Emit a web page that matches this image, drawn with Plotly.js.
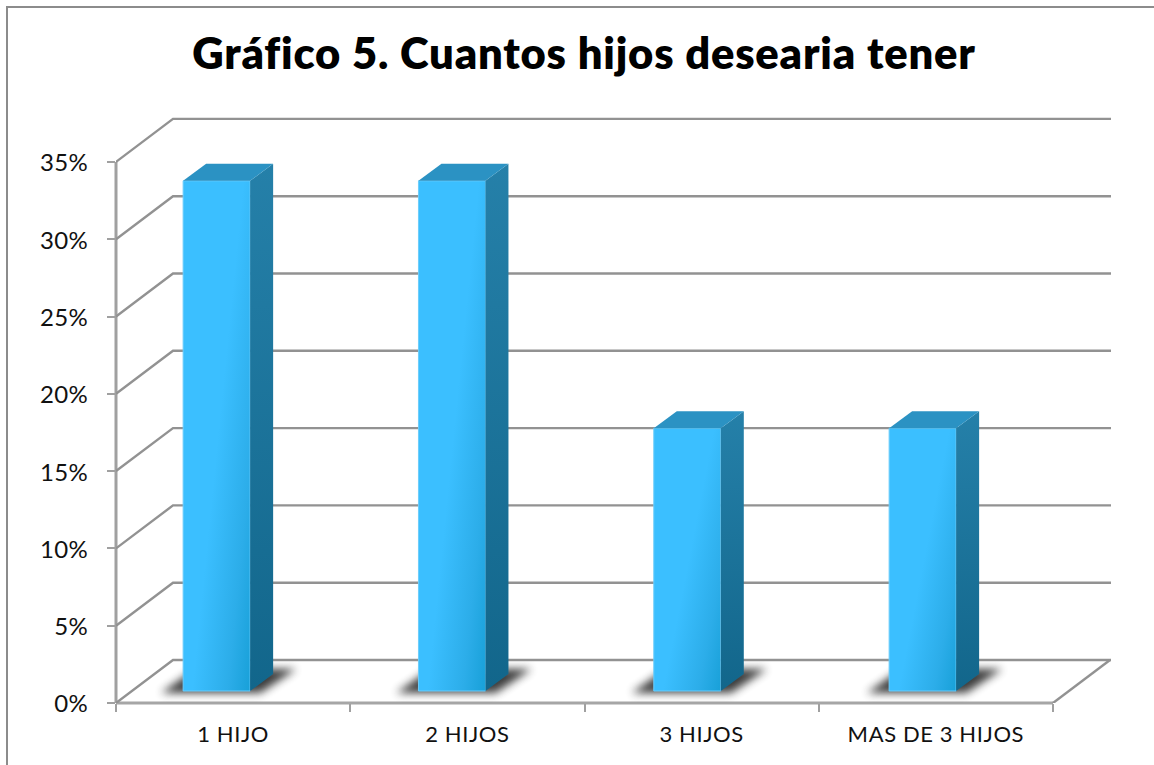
<!DOCTYPE html>
<html><head><meta charset="utf-8">
<script src="https://cdn.plot.ly/plotly-3.0.1.min.js"></script>
<style>html,body{margin:0;padding:0;background:#fff}#chart{width:1154px;height:765px}
.gtitle{letter-spacing:.8px}.xtick text{letter-spacing:.6px}.ytick text{letter-spacing:.4px}</style>
</head><body><div id="chart"></div>
<script>
const chartTitle = 'Gráfico 5. Cuantos hijos desearia tener';
const categories = ['1 HIJO', '2 HIJOS', '3 HIJOS', 'MAS DE 3 HIJOS'];
const values = [33, 33, 17, 17];
const yTicks = [0, 5, 10, 15, 20, 25, 30, 35];
const yTickLabels = ['0%', '5%', '10%', '15%', '20%', '25%', '30%', '35%'];

const W = 1154, H = 765;
const pxCat = 234.25, pxPct = 15.46;
const mL = 116, mR = 39, mB = 62, mT = 108;
const xMin = -0.5, xMax = xMin + (W - mL - mR) / pxCat;
const yMax = (H - mB - mT) / pxPct;
const ux = p => p / pxCat, uy = p => p / pxPct;

const gridColor = '#929292';
const wallDx = ux(57), wallDy = uy(43);
const barDx = ux(23), barDy = uy(17);
const barW = ux(67), barShift = ux(-16.5), barBase = uy(12), barStep = ux(235.33);
const lastEdge = categories.length - 0.5;
const barCenter = i => i * barStep + barShift;

const shapes = [];
const shadowCount = categories.length;
categories.forEach((c, i) => {
  const L = barCenter(i) - barW / 2, R = L + barW, b = barBase;
  shapes.push({type: 'path', layer: 'below', xref: 'x', yref: 'y',
    path: `M${L - ux(22)},${b - uy(2)} L${R + ux(10)},${b - uy(2)} L${R + ux(46)},${b + uy(22)} L${L + ux(12)},${b + uy(22)} Z`,
    fillcolor: '#1c1c1c', opacity: 0.85, line: {width: 0}});
});
yTicks.forEach(v => {
  shapes.push({type: 'path', layer: 'below', xref: 'x', yref: 'y',
    path: `M${xMin},${v} L${xMin + wallDx},${v + wallDy} L${xMax - ux(4)},${v + wallDy}`,
    fillcolor: 'rgba(0,0,0,0)', line: {color: gridColor, width: 2.4}});
});
// front floor edge, right floor edge, vertical axis
shapes.push({type: 'line', layer: 'below', xref: 'x', yref: 'paper', x0: xMin, x1: lastEdge, y0: 0, y1: 0, line: {color: '#a6a6a6', width: 3}});
shapes.push({type: 'line', layer: 'below', xref: 'x', yref: 'y', x0: lastEdge, x1: lastEdge + wallDx, y0: 0, y1: wallDy, line: {color: gridColor, width: 2.4}});
shapes.push({type: 'line', layer: 'below', xref: 'paper', yref: 'y', x0: 0, x1: 0, y0: 0, y1: 35, line: {color: '#a0a0a0', width: 3}});
// outer chart frame
shapes.push({type: 'path', xref: 'paper', yref: 'paper',
  path: `M${(7 - mL) / (W - mL - mR)},${-mB / (H - mB - mT)} L${(7 - mL) / (W - mL - mR)},${(H - mB - 7) / (H - mB - mT)} L${(W - mL) / (W - mL - mR)},${(H - mB - 7) / (H - mB - mT)}`,
  fillcolor: 'rgba(0,0,0,0)', line: {color: '#8c8c8c', width: 2}});

const frontTrace = {type: 'bar', x: categories.map((c, i) => barCenter(i)), y: values,
  base: barBase, width: barW, marker: {color: '#2aa9e6', line: {color: '#6ccdfb', width: 1}}, hoverinfo: 'skip'};
const sideTraces = values.map((v, i) => {
  const R = barCenter(i) + barW / 2, b = barBase;
  return {type: 'scatter', mode: 'lines', fill: 'toself', fillcolor: '#1c749b', line: {width: 0}, hoverinfo: 'skip',
    x: [R, R + barDx, R + barDx, R, R], y: [b, b + barDy, b + v + barDy, b + v, b]};
});
const topTraces = values.map((v, i) => {
  const L = barCenter(i) - barW / 2, R = L + barW, t = barBase + v;
  return {type: 'scatter', mode: 'lines', fill: 'toself', fillcolor: '#2b92c3', line: {width: 0}, hoverinfo: 'skip',
    x: [L, R, R + barDx, L + barDx, L], y: [t, t, t + barDy, t + barDy, t]};
});

const layout = {
  width: W, height: H, showlegend: false, hovermode: false, barmode: 'overlay',
  paper_bgcolor: '#fff', plot_bgcolor: 'rgba(0,0,0,0)',
  margin: {l: mL, r: mR, t: mT, b: mB, pad: 0},
  title: {text: chartTitle, x: 584 / W, xanchor: 'center', y: 1 - 54 / H, yanchor: 'middle',
    font: {family: 'Lato, sans-serif', size: 43.5, color: '#000', weight: 800}},
  xaxis: {range: [xMin, xMax], showgrid: false, zeroline: false, showline: false,
    tickmode: 'array', tickvals: categories.map((c, i) => i), ticktext: categories, ticks: '',
    ticklabelstandoff: 16, tickfont: {family: 'Lato, sans-serif', size: 22, color: '#111'},
    minor: {tickmode: 'array', tickvals: categories.map((c, i) => i - 0.5).concat([lastEdge]), ticks: 'outside', ticklen: 8, tickwidth: 2, tickcolor: '#a0a0a0', showgrid: false}},
  yaxis: {range: [0, yMax], showgrid: false, zeroline: false, showline: false,
    tickmode: 'array', tickvals: yTicks, ticktext: yTickLabels, ticks: 'outside', ticklen: 8, tickwidth: 2, tickcolor: '#a0a0a0',
    ticklabelstandoff: 14, tickfont: {family: 'Lato, sans-serif', size: 24, color: '#111'}},
  shapes: shapes
};

Plotly.newPlot('chart', [frontTrace].concat(sideTraces, topTraces), layout, {displayModeBar: false, staticPlot: true}).then(gd => {
  const svg = gd.querySelector('.main-svg');
  const ns = 'http://www.w3.org/2000/svg';
  let defs = svg.querySelector('defs');
  const addGrad = (id, x1, y1, x2, y2, stops) => {
    const g = document.createElementNS(ns, 'linearGradient');
    g.setAttribute('id', id);
    g.setAttribute('x1', x1); g.setAttribute('y1', y1); g.setAttribute('x2', x2); g.setAttribute('y2', y2);
    stops.forEach(s => {
      const st = document.createElementNS(ns, 'stop');
      st.setAttribute('offset', s[0]); st.setAttribute('stop-color', s[1]);
      g.appendChild(st);
    });
    defs.appendChild(g);
  };
  addGrad('frontGrad', 0.15, 0.35, 1, 1, [[0.36, '#3bbfff'], [0.75, '#2cade9'], [1, '#18a0d8']]);
  addGrad('sideGrad', 0, 0, 0, 1, [[0, '#2580a9'], [1, '#12668b']]);
  gd.querySelectorAll('.barlayer .point path').forEach(p => { p.style.fill = 'url(#frontGrad)'; });
  const fills = gd.querySelectorAll('.scatterlayer .trace .js-fill');
  fills.forEach((p, i) => { if (i < sideTraces.length) p.style.fill = 'url(#sideGrad)'; });
  gd.querySelectorAll('.shapelayer path').forEach(p => {
    if (+p.getAttribute('data-index') < shadowCount) p.style.filter = 'blur(4px)';
  });
  gd.querySelectorAll('.ytick text').forEach(t => { t.setAttribute('dy', '1'); });
});
</script></body></html>
